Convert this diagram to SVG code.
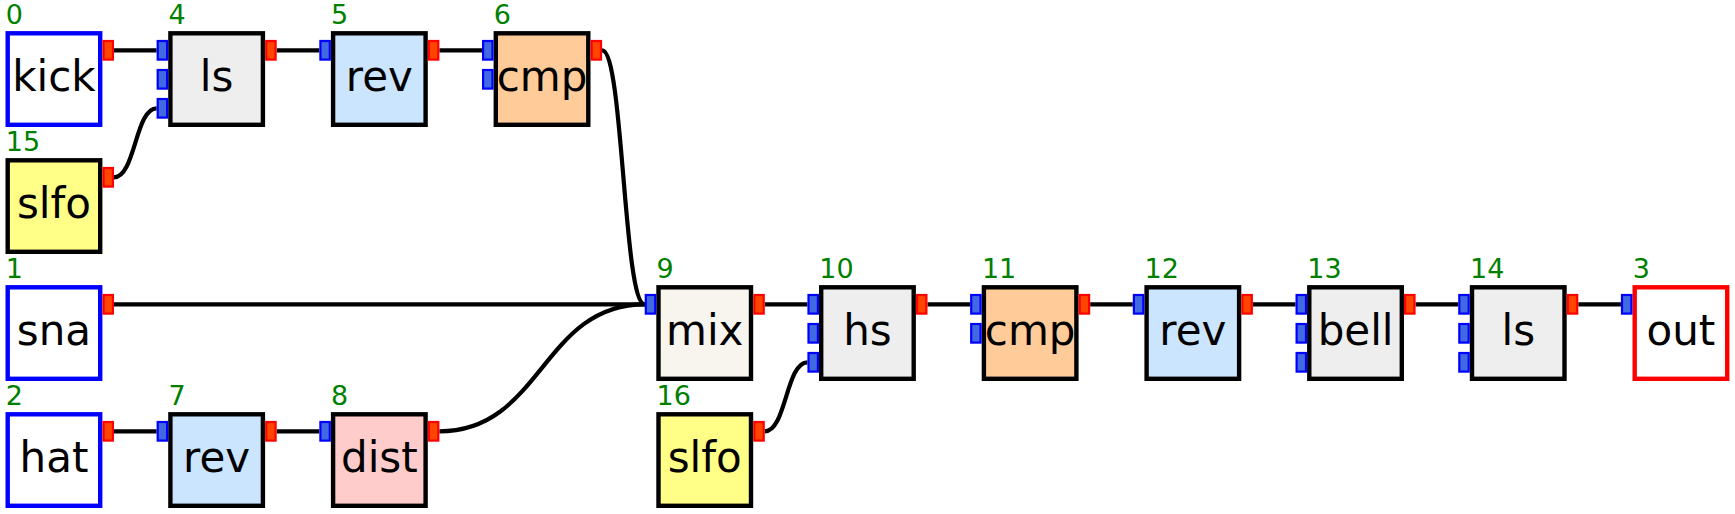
<svg xmlns="http://www.w3.org/2000/svg" width="1735" height="514" viewBox="0 0 1735 514">
<style>
.box{stroke:#000;stroke-width:4.4}
.src{fill:#fff;stroke:#0000ff;stroke-width:4.4}
.dst{fill:#fff;stroke:#ff0000;stroke-width:4.4}
.ls{fill:#eeeeee}.rev{fill:#cce5ff}.cmp{fill:#ffcc99}.dist{fill:#ffcccc}.slfo{fill:#ffff88}.mix{fill:#f8f5ee}
.pi{fill:#4169e1;stroke:#0000ff;stroke-width:2.2}
.po{fill:#ff4500;stroke:#ff0000;stroke-width:2.2}
.lbl{font-family:"DejaVu Sans",sans-serif;font-size:42px;text-anchor:middle;fill:#000}
.idx{font-family:"DejaVu Sans",sans-serif;font-size:27px;fill:#008000}
.w{fill:none;stroke:#000;stroke-width:4.2}
</style>
<defs>
<rect id="b" width="92.5" height="91.5"/>
<rect id="pin" width="9.4" height="18.6" class="pi"/>
<rect id="pout" width="9.4" height="18.6" class="po"/>
</defs>
<g id="connectors">
<path class="w" d="M114,50.3 H156.6"/>
<path class="w" d="M114,177.3 C135.3,177.3 135.3,108.3 156.6,108.3"/>
<path class="w" d="M276.7,50.3 H319.3"/>
<path class="w" d="M439.4,50.3 H482"/>
<path class="w" d="M602.1,50.3 C623.4,50.3 623.4,304.3 644.7,304.3"/>
<path class="w" d="M114,304.3 H644.7"/>
<path class="w" d="M114,431.3 H156.6"/>
<path class="w" d="M276.7,431.3 H319.3"/>
<path class="w" d="M439.4,431.3 C542,431.3 542,304.3 644.7,304.3"/>
<path class="w" d="M764.8,304.3 H807.4"/>
<path class="w" d="M764.8,431.3 C786.1,431.3 786.1,362.3 807.4,362.3"/>
<path class="w" d="M927.5,304.3 H970.1"/>
<path class="w" d="M1090.2,304.3 H1132.8"/>
<path class="w" d="M1252.9,304.3 H1295.5"/>
<path class="w" d="M1415.6,304.3 H1458.2"/>
<path class="w" d="M1578.3,304.3 H1620.9"/>
</g>
<g id="node0" transform="translate(7.7,33.3)">
<use href="#b" class="src"/><use href="#pout" x="95.8" y="7.7"/>
<text class="lbl" x="46.25" y="57.4">kick</text><text class="idx" x="-2" y="-9.3">0</text>
</g>
<g id="node15" transform="translate(7.7,160.3)">
<use href="#b" class="box slfo"/><use href="#pout" x="95.8" y="7.7"/>
<text class="lbl" x="46.25" y="57.4">slfo</text><text class="idx" x="-2" y="-9.3">15</text>
</g>
<g id="node1" transform="translate(7.7,287.3)">
<use href="#b" class="src"/><use href="#pout" x="95.8" y="7.7"/>
<text class="lbl" x="46.25" y="57.4">sna</text><text class="idx" x="-2" y="-9.3">1</text>
</g>
<g id="node2" transform="translate(7.7,414.3)">
<use href="#b" class="src"/><use href="#pout" x="95.8" y="7.7"/>
<text class="lbl" x="46.25" y="57.4">hat</text><text class="idx" x="-2" y="-9.3">2</text>
</g>
<g id="node4" transform="translate(170.4,33.3)">
<use href="#b" class="box ls"/><use href="#pout" x="95.8" y="7.7"/>
<use href="#pin" x="-12.7" y="7.7"/><use href="#pin" x="-12.7" y="36.7"/><use href="#pin" x="-12.7" y="65.7"/>
<text class="lbl" x="46.25" y="57.4">ls</text><text class="idx" x="-2" y="-9.3">4</text>
</g>
<g id="node7" transform="translate(170.4,414.3)">
<use href="#b" class="box rev"/><use href="#pout" x="95.8" y="7.7"/>
<use href="#pin" x="-12.7" y="7.7"/>
<text class="lbl" x="46.25" y="57.4">rev</text><text class="idx" x="-2" y="-9.3">7</text>
</g>
<g id="node5" transform="translate(333.1,33.3)">
<use href="#b" class="box rev"/><use href="#pout" x="95.8" y="7.7"/>
<use href="#pin" x="-12.7" y="7.7"/>
<text class="lbl" x="46.25" y="57.4">rev</text><text class="idx" x="-2" y="-9.3">5</text>
</g>
<g id="node8" transform="translate(333.1,414.3)">
<use href="#b" class="box dist"/><use href="#pout" x="95.8" y="7.7"/>
<use href="#pin" x="-12.7" y="7.7"/>
<text class="lbl" x="46.25" y="57.4">dist</text><text class="idx" x="-2" y="-9.3">8</text>
</g>
<g id="node6" transform="translate(495.8,33.3)">
<use href="#b" class="box cmp"/><use href="#pout" x="95.8" y="7.7"/>
<use href="#pin" x="-12.7" y="7.7"/><use href="#pin" x="-12.7" y="36.7"/>
<text class="lbl" x="46.25" y="57.4">cmp</text><text class="idx" x="-2" y="-9.3">6</text>
</g>
<g id="node9" transform="translate(658.5,287.3)">
<use href="#b" class="box mix"/><use href="#pout" x="95.8" y="7.7"/>
<use href="#pin" x="-12.7" y="7.7"/>
<text class="lbl" x="46.25" y="57.4">mix</text><text class="idx" x="-2" y="-9.3">9</text>
</g>
<g id="node16" transform="translate(658.5,414.3)">
<use href="#b" class="box slfo"/><use href="#pout" x="95.8" y="7.7"/>
<text class="lbl" x="46.25" y="57.4">slfo</text><text class="idx" x="-2" y="-9.3">16</text>
</g>
<g id="node10" transform="translate(821.2,287.3)">
<use href="#b" class="box ls"/><use href="#pout" x="95.8" y="7.7"/>
<use href="#pin" x="-12.7" y="7.7"/><use href="#pin" x="-12.7" y="36.7"/><use href="#pin" x="-12.7" y="65.7"/>
<text class="lbl" x="46.25" y="57.4">hs</text><text class="idx" x="-2" y="-9.3">10</text>
</g>
<g id="node11" transform="translate(983.9,287.3)">
<use href="#b" class="box cmp"/><use href="#pout" x="95.8" y="7.7"/>
<use href="#pin" x="-12.7" y="7.7"/><use href="#pin" x="-12.7" y="36.7"/>
<text class="lbl" x="46.25" y="57.4">cmp</text><text class="idx" x="-2" y="-9.3">11</text>
</g>
<g id="node12" transform="translate(1146.6,287.3)">
<use href="#b" class="box rev"/><use href="#pout" x="95.8" y="7.7"/>
<use href="#pin" x="-12.7" y="7.7"/>
<text class="lbl" x="46.25" y="57.4">rev</text><text class="idx" x="-2" y="-9.3">12</text>
</g>
<g id="node13" transform="translate(1309.3,287.3)">
<use href="#b" class="box ls"/><use href="#pout" x="95.8" y="7.7"/>
<use href="#pin" x="-12.7" y="7.7"/><use href="#pin" x="-12.7" y="36.7"/><use href="#pin" x="-12.7" y="65.7"/>
<text class="lbl" x="46.25" y="57.4">bell</text><text class="idx" x="-2" y="-9.3">13</text>
</g>
<g id="node14" transform="translate(1472,287.3)">
<use href="#b" class="box ls"/><use href="#pout" x="95.8" y="7.7"/>
<use href="#pin" x="-12.7" y="7.7"/><use href="#pin" x="-12.7" y="36.7"/><use href="#pin" x="-12.7" y="65.7"/>
<text class="lbl" x="46.25" y="57.4">ls</text><text class="idx" x="-2" y="-9.3">14</text>
</g>
<g id="node3" transform="translate(1634.7,287.3)">
<use href="#b" class="dst"/>
<use href="#pin" x="-12.7" y="7.7"/>
<text class="lbl" x="46.25" y="57.4">out</text><text class="idx" x="-2" y="-9.3">3</text>
</g>
</svg>
